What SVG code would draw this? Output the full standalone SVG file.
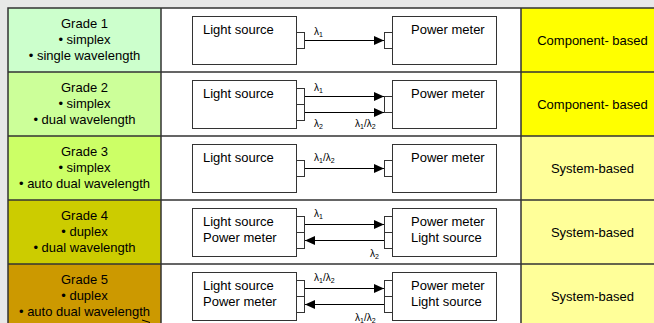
<svg xmlns="http://www.w3.org/2000/svg" width="654" height="323" viewBox="0 0 654 323">
<defs>
<marker id="ah" markerUnits="userSpaceOnUse" markerWidth="11" markerHeight="10" refX="10" refY="4.5" orient="auto">
<path d="M0,0 L10,4.5 L0,9 z" fill="#000"/>
</marker>
<style>
text{font-family:"Liberation Sans",Arial,sans-serif;fill:#000}
.t{font-size:13px}
.c{font-size:13px;text-anchor:middle}
.l{font-size:10px}
.s{font-size:7px}
.box{fill:#fff;stroke:#333;stroke-width:1}
.port{fill:#fff;stroke:#333;stroke-width:1}
.grid{stroke:#333;stroke-width:1.5;fill:none}
.arr{stroke:#000;stroke-width:1;fill:none;marker-end:url(#ah)}
</style>
</defs>
<rect x="0" y="0" width="654" height="323" fill="#e8e8e8"/>
<g id="cells">
<rect x="8" y="8" width="153" height="64" fill="#ccffcc"/>
<rect x="8" y="72" width="153" height="64" fill="#ccff99"/>
<rect x="8" y="136" width="153" height="64" fill="#ccff66"/>
<rect x="8" y="200" width="153" height="64" fill="#cccc00"/>
<rect x="8" y="264" width="153" height="64" fill="#cc9900"/>
<rect x="161" y="8" width="360" height="320" fill="#fff"/>
<rect x="521" y="8" width="140" height="64" fill="#ffff00"/>
<rect x="521" y="72" width="140" height="64" fill="#ffff00"/>
<rect x="521" y="136" width="140" height="192" fill="#ffff99"/>
</g>
<g id="grid" class="grid">
<path d="M8,330 V8 H660"/>
<path d="M8,72 H660 M8,136 H660 M8,200 H660 M8,264 H660"/>
<path d="M161,8 V330 M521,8 V330"/>
</g>
<g id="grade1"><text class="c" x="84.5" y="28">Grade 1</text><text class="c" x="84.5" y="44">• simplex</text><text class="c" x="84.5" y="60">• single wavelength</text></g>
<g id="grade2"><text class="c" x="84.5" y="92">Grade 2</text><text class="c" x="84.5" y="108">• simplex</text><text class="c" x="84.5" y="124">• dual wavelength</text></g>
<g id="grade3"><text class="c" x="84.5" y="156">Grade 3</text><text class="c" x="84.5" y="172">• simplex</text><text class="c" x="84.5" y="188">• auto dual wavelength</text></g>
<g id="grade4"><text class="c" x="84.5" y="220">Grade 4</text><text class="c" x="84.5" y="236">• duplex</text><text class="c" x="84.5" y="252">• dual wavelength</text></g>
<g id="grade5"><text class="c" x="84.5" y="284">Grade 5</text><text class="c" x="84.5" y="300">• duplex</text><text class="c" x="84.5" y="316">• auto dual wavelength</text></g>
<g id="type1"><text class="c" x="592.5" y="45">Component- based</text></g>
<g id="type2"><text class="c" x="592.5" y="109">Component- based</text></g>
<g id="type3"><text class="c" x="592.5" y="173">System-based</text></g>
<g id="type4"><text class="c" x="592.5" y="237">System-based</text></g>
<g id="type5"><text class="c" x="592.5" y="301">System-based</text></g>

<g id="ls1"><rect class="box" x="192.5" y="16.5" width="104" height="48"/><rect class="port" x="296.5" y="32.5" width="8" height="16"/><text class="t" x="203" y="34">Light source</text></g>
<g id="pm1"><rect class="box" x="392.5" y="16.5" width="104" height="48"/><rect class="port" x="384.5" y="32.5" width="8" height="16"/><text class="t" x="411" y="34">Power meter</text></g>

<g id="ls2"><rect class="box" x="192.5" y="80.5" width="104" height="48"/><rect class="port" x="296.5" y="88.5" width="8" height="16"/><rect class="port" x="296.5" y="104.5" width="8" height="16"/><text class="t" x="203" y="98">Light source</text></g>
<g id="pm2"><rect class="box" x="392.5" y="80.5" width="104" height="48"/><rect class="port" x="384.5" y="96.5" width="8" height="16"/><text class="t" x="411" y="98">Power meter</text></g>

<g id="ls3"><rect class="box" x="192.5" y="144.5" width="104" height="48"/><rect class="port" x="296.5" y="160.5" width="8" height="16"/><text class="t" x="203" y="162">Light source</text></g>
<g id="pm3"><rect class="box" x="392.5" y="144.5" width="104" height="48"/><rect class="port" x="384.5" y="160.5" width="8" height="16"/><text class="t" x="411" y="162">Power meter</text></g>

<g id="ls4"><rect class="box" x="192.5" y="208.5" width="104" height="48"/><rect class="port" x="296.5" y="216.5" width="8" height="16"/><rect class="port" x="296.5" y="232.5" width="8" height="16"/><text class="t" x="203" y="226">Light source</text><text class="t" x="203" y="242">Power meter</text></g>
<g id="pm4"><rect class="box" x="392.5" y="208.5" width="104" height="48"/><rect class="port" x="384.5" y="216.5" width="8" height="16"/><rect class="port" x="384.5" y="232.5" width="8" height="16"/><text class="t" x="411" y="226">Power meter</text><text class="t" x="411" y="242">Light source</text></g>

<g id="ls5"><rect class="box" x="192.5" y="272.5" width="104" height="48"/><rect class="port" x="296.5" y="280.5" width="8" height="16"/><rect class="port" x="296.5" y="296.5" width="8" height="16"/><text class="t" x="203" y="290">Light source</text><text class="t" x="203" y="306">Power meter</text></g>
<g id="pm5"><rect class="box" x="392.5" y="272.5" width="104" height="48"/><rect class="port" x="384.5" y="280.5" width="8" height="16"/><rect class="port" x="384.5" y="296.5" width="8" height="16"/><text class="t" x="411" y="290">Power meter</text><text class="t" x="411" y="306">Light source</text></g>

<g id="connectors">
<path class="arr" d="M305,40.5 H384"/>
<path class="arr" d="M305,96.5 H384"/>
<path class="arr" d="M305,112.5 H384"/>
<path class="arr" d="M305,168.5 H384"/>
<path class="arr" d="M305,224.5 H384"/>
<path class="arr" d="M384,240.5 H305"/>
<path class="arr" d="M305,288.5 H384"/>
<path class="arr" d="M384,304.5 H305"/>
<path d="M142,320 L150,322.5" stroke="#000" stroke-width="1"/>
</g>
<g id="labels">
<text class="l" x="314" y="35">λ<tspan class="s" dy="2">1</tspan></text>
<text class="l" x="314" y="91">λ<tspan class="s" dy="2">1</tspan></text>
<text class="l" x="314" y="127">λ<tspan class="s" dy="2">2</tspan></text>
<text class="l" x="355" y="127">λ<tspan class="s" dy="2">1</tspan><tspan dy="-2">/λ</tspan><tspan class="s" dy="2">2</tspan></text>
<text class="l" x="314" y="161">λ<tspan class="s" dy="2">1</tspan><tspan dy="-2">/λ</tspan><tspan class="s" dy="2">2</tspan></text>
<text class="l" x="314" y="217">λ<tspan class="s" dy="2">1</tspan></text>
<text class="l" x="370" y="257">λ<tspan class="s" dy="2">2</tspan></text>
<text class="l" x="314" y="281">λ<tspan class="s" dy="2">1</tspan><tspan dy="-2">/λ</tspan><tspan class="s" dy="2">2</tspan></text>
<text class="l" x="355" y="321">λ<tspan class="s" dy="2">1</tspan><tspan dy="-2">/λ</tspan><tspan class="s" dy="2">2</tspan></text>
</g>
</svg>
